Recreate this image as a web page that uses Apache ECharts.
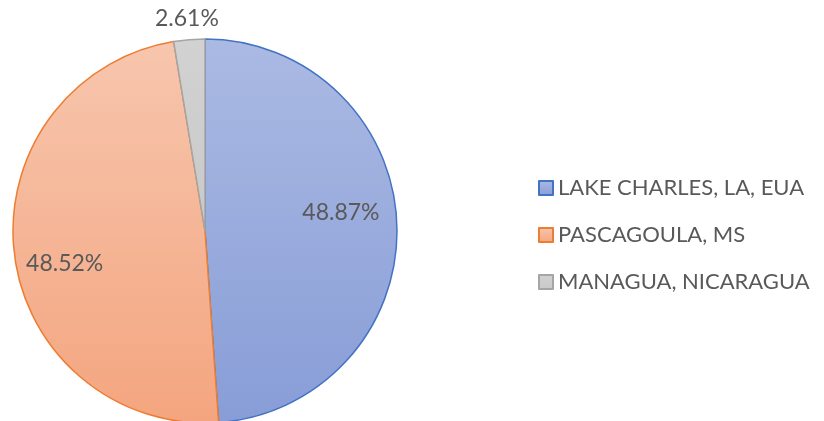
<!DOCTYPE html>
<html>
<head>
<meta charset="utf-8">
<script src="https://cdn.jsdelivr.net/npm/echarts@6/dist/echarts.min.js"></script>
<style>
html,body{margin:0;padding:0;background:#fff;}
#main{width:824px;height:421px;}
</style>
</head>
<body>
<div id="main"></div>
<script>
const categories = ['LAKE CHARLES, LA, EUA', 'PASCAGOULA, MS', 'MANAGUA, NICARAGUA'];
const values = [48.87, 48.52, 2.61];

const fills = [
  ['#abbae3', '#889dd7'],
  ['#f7c6ae', '#f4a57f'],
  ['#d2d2d2', '#c9c9c9']
];
const borders = ['#4472c4', '#ed7d31', '#a5a5a5'];
const labelOffsets = [[37, -15], [-42, 21], [-10, -114]];

function grad(c) {
  return new echarts.graphic.LinearGradient(0, 0, 0, 1, [
    { offset: 0, color: c[0] },
    { offset: 1, color: c[1] }
  ]);
}

const chart = echarts.init(document.getElementById('main'), null, { renderer: 'canvas' });
const font = 'Lato, "Liberation Sans", sans-serif';

chart.setOption({
  animation: false,
  legend: {
    orient: 'vertical',
    left: 533,
    top: 171,
    itemWidth: 14,
    itemHeight: 14,
    itemGap: 23,
    icon: 'rect',
    textStyle: { color: '#595959', fontSize: 22, fontFamily: font, lineHeight: 24 },
    data: categories
  },
  series: [{
    type: 'pie',
    center: [205, 231],
    radius: 192,
    startAngle: 90,
    clockwise: true,
    label: {
      show: true,
      position: 'inside',
      formatter: p => p.value.toFixed(2) + '%',
      color: '#595959',
      fontSize: 23,
      fontFamily: font
    },
    labelLine: { show: false },
    labelLayout: function (params) {
      const o = labelOffsets[params.dataIndex];
      return { dx: o[0], dy: o[1] };
    },
    emphasis: { disabled: true },
    data: categories.map((name, i) => ({
      name: name,
      value: values[i],
      itemStyle: { color: grad(fills[i]), borderColor: borders[i], borderWidth: 1.5 }
    }))
  }]
});
</script>
</body>
</html>
